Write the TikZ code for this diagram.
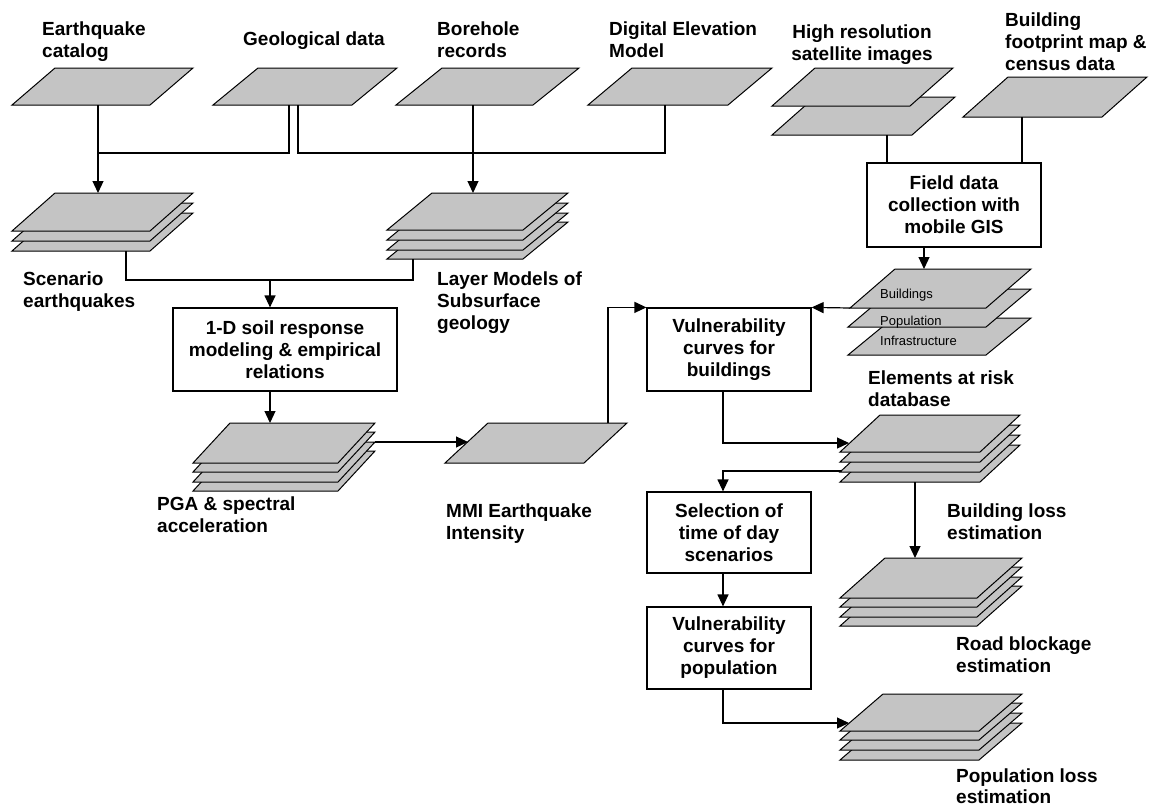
\documentclass[tikz,border=0pt]{standalone}
\usepackage{fontspec}
\setmainfont{Liberation Sans}
\usetikzlibrary{arrows.meta}
\definecolor{sheetgray}{RGB}{196,196,196}
\newcommand\sheetat[5]{\draw[sheet] (#1,#2) -- ++(#3,0) -- ++(-#4,#5) -- ++(-#3,0) -- cycle;}
\begin{document}
\begin{tikzpicture}[x=1pt,y=-1pt,
  sheet/.style={draw=black,fill=sheetgray,line width=1pt,line join=miter},
  conn/.style={line width=1.2pt},
  arr/.style={conn,-{Triangle[length=12pt,width=11pt]}},
  lab/.style={font=\bfseries\fontsize{19}{22}\selectfont,align=left,anchor=north west,inner sep=0pt},
  procbox/.style={draw,fill=white,line width=1.2pt,font=\bfseries\fontsize{19}{22}\selectfont,align=center,inner sep=0pt},
  small/.style={font=\fontsize{13}{14}\selectfont,anchor=base west,inner sep=0pt}]
\useasboundingbox[fill=white] (0,0) rectangle (1151,809);

% ---- top row input sheets
\sheetat{55}{68}{138}{43}{37}
\coordinate (catB) at (98,105);
\sheetat{258}{68}{139}{45}{37}
\coordinate (geoB1) at (289,105);
\coordinate (geoB2) at (298,105);
\sheetat{442}{68}{137}{46}{37}
\coordinate (boreB) at (473,105);
\sheetat{632}{68}{140}{44}{37}
\coordinate (demB) at (665,105);
\sheetat{815}{97}{140}{43}{38}
\sheetat{815}{68}{138}{43}{38}
\coordinate (satB) at (887,135);
\sheetat{1008}{77}{139}{45}{40}
\coordinate (footB) at (1022,117);

% ---- scenario stack
\sheetat{55}{213}{138}{43}{38}
\sheetat{55}{203}{138}{43}{38}
\sheetat{55}{193}{138}{43}{38}
\coordinate (scenT) at (98,193);
\coordinate (scenB) at (126,251);

% ---- layer models stack
\sheetat{432}{222}{136}{45}{37}
\sheetat{432}{213}{136}{45}{37}
\sheetat{432}{203}{136}{45}{37}
\sheetat{432}{193}{136}{45}{37}
\coordinate (layT) at (473,193);
\coordinate (layB) at (413,259);

% ---- PGA stack
\sheetat{230}{451}{145}{37}{40}
\sheetat{230}{442}{145}{37}{40}
\sheetat{230}{432}{145}{37}{40}
\sheetat{230}{423}{145}{37}{40}
\coordinate (pgaT) at (270,423);
\coordinate (pgaR) at (375,442);

% ---- MMI
\sheetat{488}{423}{139}{43}{40}
\coordinate (mmiL) at (468,442);
\coordinate (mmiT) at (608,423);

% ---- elements at risk
\sheetat{893}{318}{138}{45}{37}
\sheetat{893}{289}{138}{45}{38}
\sheetat{895}{269}{136}{45}{39}
\coordinate (elemL) at (850,308);
\coordinate (elemT) at (924,269);
\node[small] (t-bld) at (880,298) {Buildings};
\node[small] (t-pop) at (880,325) {Population};
\node[small] (t-inf) at (880,345) {Infrastructure};

% ---- building loss stack
\sheetat{880}{445}{140}{40}{37}
\sheetat{880}{435}{140}{40}{37}
\sheetat{880}{425}{140}{40}{37}
\sheetat{880}{415}{140}{40}{37}
\coordinate (blL) at (849,443);
\coordinate (blL2) at (841,471);
\coordinate (blB) at (915,482);

% ---- road blockage stack
\sheetat{885}{586}{137}{45}{40}
\sheetat{885}{577}{137}{45}{40}
\sheetat{885}{567}{137}{45}{40}
\sheetat{885}{558}{137}{45}{40}
\coordinate (roadT) at (915,558);

% ---- population loss stack
\sheetat{883}{723}{139}{43}{37}
\sheetat{883}{713}{139}{43}{37}
\sheetat{883}{703}{139}{43}{37}
\sheetat{883}{694}{139}{43}{37}
\coordinate (plL) at (849,723);

% ---- process boxes
\node[procbox,minimum width=224pt,minimum height=83pt] (soil) at (285,349.5) {1-D soil response\\modeling \& empirical\\relations};
\node[procbox,minimum width=164pt,minimum height=83pt] (vb) at (729,349.5) {Vulnerability\\curves for\\buildings};
\node[procbox,minimum width=174pt,minimum height=84pt] (field) at (954,205) {Field data\\collection with\\mobile GIS};
\node[procbox,minimum width=164pt,minimum height=81pt] (sel) at (729,532.5) {Selection of\\time of day\\scenarios};
\node[procbox,minimum width=164pt,minimum height=82pt] (vp) at (729,648) {Vulnerability\\curves for\\population};

% ---- labels
\node[lab] (l-cat) at (42,22) {Earthquake\\catalog};
\node[lab] (l-geo) at (243,32) {Geological data};
\node[lab] (l-bore) at (437,22) {Borehole\\records};
\node[lab] (l-dem) at (609,22) {Digital Elevation\\Model};
\node[lab,anchor=north,align=center] (l-sat) at (862,25) {High resolution\\satellite images};
\node[lab] (l-foot) at (1005,13) {Building\\footprint map \&\\census data};
\node[lab] (l-scen) at (23,272) {Scenario\\earthquakes};
\node[lab] (l-lay) at (437,272) {Layer Models of\\Subsurface\\geology};
\node[lab] (l-pga) at (157,497) {PGA \& spectral\\acceleration};
\node[lab] (l-mmi) at (446,504) {MMI Earthquake\\Intensity};
\node[lab] (l-elem) at (868,371) {Elements at risk\\database};
\node[lab] (l-bl) at (947,504) {Building loss\\estimation};
\node[lab] (l-road) at (956,637) {Road blockage\\estimation};
\node[lab,font=\bfseries\fontsize{19}{21}\selectfont] (l-pl) at (956,769) {Population loss\\estimation};

% ---- junction coordinates
\coordinate (j1) at (98,153);
\coordinate (j3) at (665,153);
\coordinate (j2) at (270,280);
\coordinate (j4) at (413,280);
\coordinate (vx) at (723,0);

% ---- connectors
\draw[arr] (catB) -- (scenT);
\draw[conn] (geoB1) |- (j1);
\draw[conn] (geoB2) |- (j3) -- (demB);
\draw[arr] (boreB) -- (layT);
\draw[conn] (scenB) |- (j4) -- (layB);
\draw[arr] (j2) -- (j2 |- soil.north);
\draw[arr] (soil.south -| j2) -- (pgaT);
\draw[arr] (pgaR) -- (mmiL);
\draw[arr] (mmiT) |- (vb.north west);
\draw[arr] (elemL) -- (vb.north east);
\draw[conn] (satB) -- (satB |- field.north);
\draw[conn] (footB) -- (footB |- field.north);
\draw[arr] (field.south -| elemT) -- (elemT);
\draw[arr] (vb.south -| vx) |- (blL);
\draw[arr] (blL2) -| (sel.north -| vx);
\draw[arr] (blB) -- (roadT);
\draw[arr] (sel.south -| vx) -- (vp.north -| vx);
\draw[arr] (vp.south -| vx) |- (plL);
\end{tikzpicture}
\end{document}
